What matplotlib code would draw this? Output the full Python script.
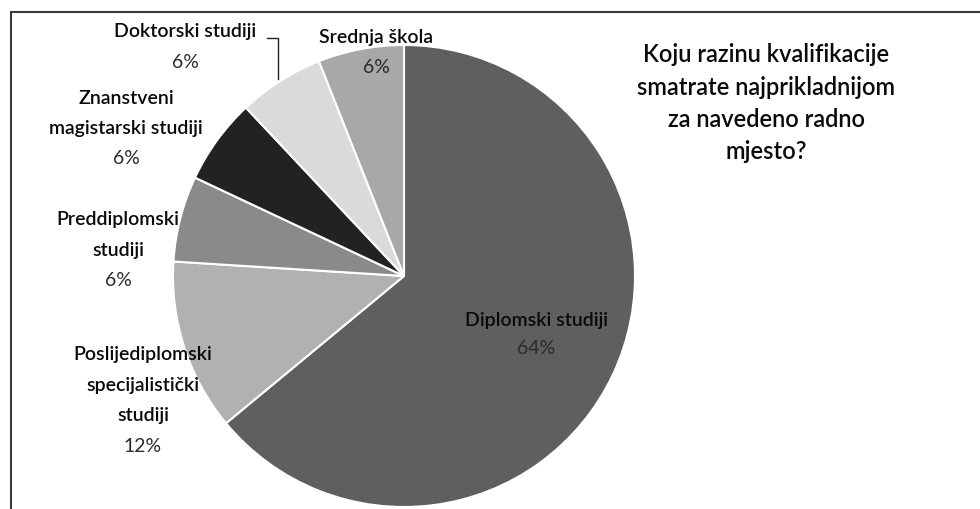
import matplotlib.pyplot as plt
from matplotlib.patches import Rectangle

plt.rcParams["font.family"] = ["Lato", "DejaVu Sans"]

# Data
labels = ["Diplomski studiji", "Poslijediplomski\nspecijalistički\nstudiji",
          "Preddiplomski\nstudiji", "Znanstveni\nmagistarski studiji",
          "Doktorski studiji", "Srednja škola"]
shares = [64, 12, 6, 6, 6, 6]
colors = ["#5e5f5e", "#b1b1b1", "#8a8a8a", "#222222", "#dadada", "#a8a8a8"]
title = "Koju razinu kvalifikacije\nsmatrate najprikladnijom\nza navedeno radno\nmjesto?"

W, H = 980, 510
fig = plt.figure(figsize=(W / 100, H / 100), dpi=100)

# chart frame (runs past right and bottom edges)
fig.add_artist(Rectangle((11 / W, -0.1), 1.2, (H - 13) / H + 0.1, transform=fig.transFigure,
                         fill=False, edgecolor="#3a3a3a", linewidth=1.5))

# pie axes: centre (404, 277) px, radius 231 px
cx, cy, r = 404, 277, 231
ax = fig.add_axes([(cx - r) / W, (H - cy - r) / H, 2 * r / W, 2 * r / H])
wedges, _ = ax.pie(shares, colors=colors, startangle=90, counterclock=False,
                   wedgeprops=dict(edgecolor="white", linewidth=1.5))
ax.set_xlim(-1, 1)
ax.set_ylim(-1, 1)
ax.set_aspect("equal")
ax.axis("off")

# label positions in pixels (centre x, y of first line)
label_pos = [(536, 321), (143, 355), (118, 220), (126, 98), (185, 32), (376, 37)]
line_h = 30.5

for name, val, (x, y) in zip(labels, shares, label_pos):
    lines = name.split("\n")
    for i, ln in enumerate(lines):
        fig.text(x / W, 1 - (y + i * line_h) / H, ln, ha="center", va="center",
                 fontsize=14, color="#0a0a0a", weight="semibold")
    pct_y = y + len(lines) * line_h
    if len(lines) == 1 and y > 300:
        pct_y = y + 27
    fig.text(x / W, 1 - pct_y / H, f"{val}%", ha="center", va="center", fontsize=14,
             color="#2a2a2a")

# leader line for Doktorski studiji
fig.add_artist(plt.Line2D([267 / W, 278 / W, 278 / W], [1 - 39 / H, 1 - 39 / H, 1 - 80 / H],
                          transform=fig.transFigure, color="#222222", linewidth=1))

for i, ln in enumerate(title.split("\n")):
    fig.text(766 / W, 1 - (55 + i * 32.3) / H, ln, ha="center", va="center",
             fontsize=17, color="#0a0a0a", weight="semibold")

fig.savefig("out.png", dpi=100)
